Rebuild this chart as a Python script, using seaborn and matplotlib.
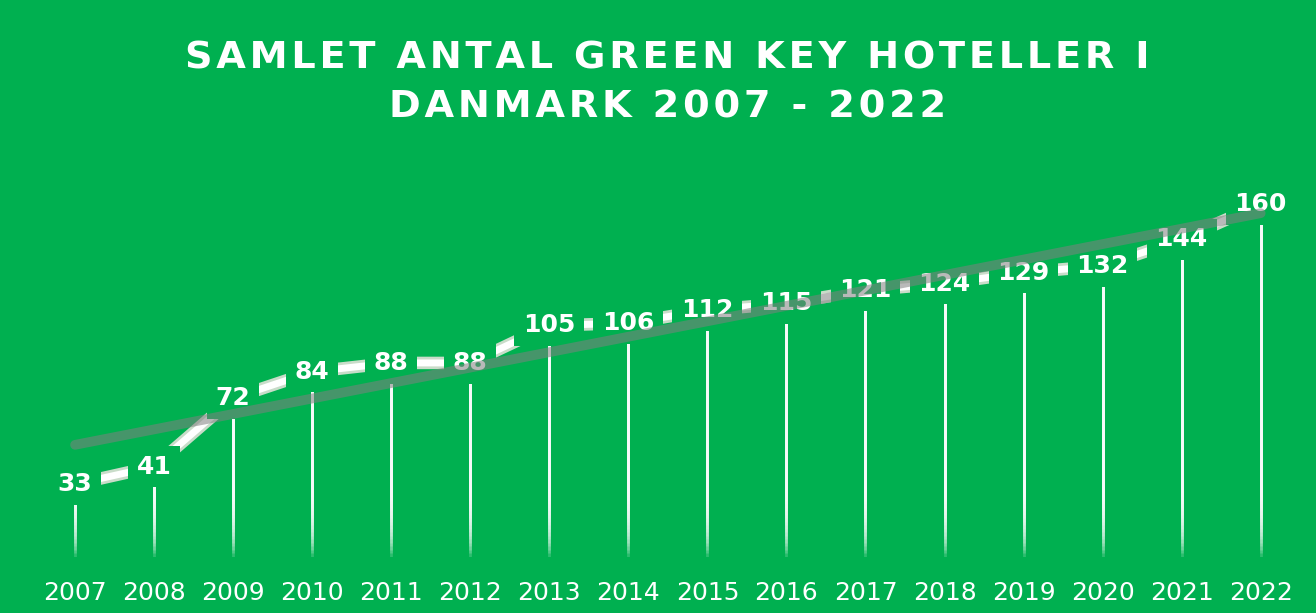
import numpy as np
import pandas as pd
import matplotlib.pyplot as plt
import seaborn as sns

# data
years = ['2007', '2008', '2009', '2010', '2011', '2012', '2013', '2014',
         '2015', '2016', '2017', '2018', '2019', '2020', '2021', '2022']
hotels = [33, 41, 72, 84, 88, 88, 105, 106, 112, 115, 121, 124, 129, 132, 144, 160]

title_lines = ['SAMLET ANTAL GREEN KEY HOTELLER I', 'DANMARK 2007 - 2022']
bg = '#00B050'

sns.set_style('white')
plt.rcParams['font.family'] = ['DejaVu Sans']

df = pd.DataFrame({'pos': np.arange(len(years)), 'hotels': hotels})

fig = plt.figure(figsize=(13.16, 6.13), dpi=100, facecolor=bg)
ax = fig.add_axes([0.027, 0.0914, 0.961, 0.6475])
ax.set_facecolor(bg)

# drop lines: stacked faint lines so the bottom fades out
for k in range(20):
    ax.vlines(df['pos'], k * 1.6, df['hotels'], colors='white', lw=2,
              alpha=0.18, zorder=1)

# main line with a light shadow under it
sns.lineplot(data=df, x='pos', y='hotels', ax=ax, color='#c9dcc9', lw=9,
             zorder=2, solid_capstyle='butt')
sns.lineplot(data=df, x='pos', y='hotels', ax=ax, color='white', lw=5,
             zorder=2.1, solid_capstyle='butt')

# data labels
for x, v in zip(df['pos'], df['hotels']):
    ax.text(x, v, str(v), ha='center', va='center', color='white',
            fontsize=18, fontweight='bold', zorder=3,
            bbox=dict(boxstyle='square,pad=0.35', fc=bg, ec='none'))

# linear trend
sns.regplot(data=df, x='pos', y='hotels', ax=ax, scatter=False, ci=None,
            line_kws=dict(color='#808080', lw=7, alpha=0.55, zorder=4))

ax.set_xlim(-0.5, len(years) - 0.5)
ax.set_ylim(0, 180)
ax.set_xticks(df['pos'])
ax.set_xticklabels(years, color='white', fontsize=18)
ax.set_yticks([])
ax.tick_params(axis='x', length=0, pad=17)
ax.set_xlabel('')
ax.set_ylabel('')
for s in ax.spines.values():
    s.set_visible(False)

# title with some letter spacing
spaced = ['\u200a'.join(line) for line in title_lines]
fig.text(0.507, 0.905, spaced[0], ha='center', va='center', color='white',
         fontsize=27.5, fontweight='bold')
fig.text(0.507, 0.825, spaced[1], ha='center', va='center', color='white',
         fontsize=27.5, fontweight='bold')

fig.savefig('out.png', dpi=100, facecolor=bg)
